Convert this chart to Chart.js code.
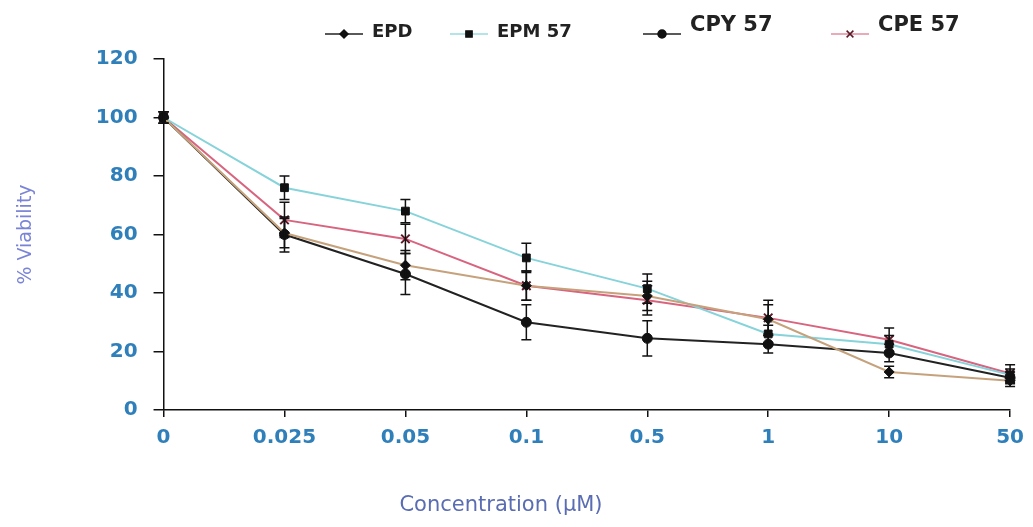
<!DOCTYPE html>
<html>
<head>
<meta charset="utf-8">
<script src="https://cdn.jsdelivr.net/npm/chart.js@4"></script>
<style>
    html, body { margin: 0; padding: 0; background: #fff; }
    #wrap { width: 1033px; height: 527px; position: relative; }
</style>
</head>
<body>
<div id="wrap"><canvas id="viability-chart"></canvas></div>
<script>
"use strict";

var concentrations = ["0", "0.025", "0.05", "0.1", "0.5", "1", "10", "50"];

var epd = [100, 60.5, 49.5, 42.5, 39, 31, 13, 10];
var epm57 = [100, 76, 68, 52, 41.5, 26, 22.5, 12];
var cpy57 = [100, 60, 46.5, 30, 24.5, 22.5, 19.5, 11];
var cpe57 = [100, 65, 58.5, 42.5, 37.5, 31.5, 24, 12.5];

var epdErr = [2, 5, 5, 5, 5, 5, 2, 2];
var epm57Err = [2, 4, 4, 5, 5, 3, 3, 2];
var cpy57Err = [2, 6, 7, 6, 6, 3, 3, 2];
var cpe57Err = [2, 6, 5, 5, 5, 6, 4, 3];

var yTicks = [0, 20, 40, 60, 80, 100, 120];

var tickBlue = "#2f7fbb";

// legend row at the top, drawn by hand so each entry sits where the original has it
var legendSlots = [
    { x: 325, textY: 32, size: 18 },
    { x: 450, textY: 32, size: 18 },
    { x: 643, textY: 26, size: 21 },
    { x: 831, textY: 26, size: 21 },
];

var errorBars = {
    id: "errorBars",
    afterDatasetsDraw: function (chart) {
        var ctx = chart.ctx;
        var yScale = chart.scales.y;
        ctx.save();
        ctx.strokeStyle = "#111";
        ctx.lineWidth = 1.5;
        chart.data.datasets.forEach(function (ds, i) {
            var meta = chart.getDatasetMeta(i);
            meta.data.forEach(function (pt, j) {
                var v = ds.data[j];
                var e = ds.errors[j];
                var top = yScale.getPixelForValue(v + e);
                var bot = yScale.getPixelForValue(v - e);
                ctx.beginPath();
                ctx.moveTo(pt.x, top);
                ctx.lineTo(pt.x, bot);
                ctx.moveTo(pt.x - 5, top);
                ctx.lineTo(pt.x + 5, top);
                ctx.moveTo(pt.x - 5, bot);
                ctx.lineTo(pt.x + 5, bot);
                ctx.stroke();
            });
        });
        ctx.restore();
    },
};

var topLegend = {
    id: "topLegend",
    afterDraw: function (chart) {
        var ctx = chart.ctx;
        ctx.save();
        chart.data.datasets.forEach(function (ds, i) {
            var slot = legendSlots[i];
            var lineY = 34;
            ctx.strokeStyle = ds.legendColor;
            ctx.lineWidth = 1.5;
            ctx.beginPath();
            ctx.moveTo(slot.x, lineY);
            ctx.lineTo(slot.x + 38, lineY);
            ctx.stroke();
            ctx.fillStyle = ds.pointBackgroundColor;
            ctx.strokeStyle = ds.pointBorderColor;
            Chart.helpers.drawPoint(ctx, {
                pointStyle: ds.pointStyle,
                radius: ds.pointRadius * 0.8,
                borderWidth: ds.pointBorderWidth,
                rotation: 0,
            }, slot.x + 19, lineY);
            ctx.fillStyle = "#222";
            ctx.font = "bold " + slot.size + "px 'DejaVu Sans'";
            ctx.textBaseline = "middle";
            ctx.textAlign = "left";
            ctx.fillText(ds.label, slot.x + 47, slot.textY);
        });

        // x axis title, centred where the original puts it
        ctx.fillStyle = "#5a6db3";
        ctx.font = "21px 'DejaVu Sans'";
        ctx.textAlign = "center";
        ctx.textBaseline = "middle";
        ctx.fillText("Concentration (\u00b5M)", 501, 506);
        ctx.restore();
    },
};

var ctx = document.getElementById("viability-chart").getContext("2d");

new Chart(ctx, {
    type: "line",
    data: {
        labels: concentrations,
        datasets: [
            {
                label: "EPD",
                data: epd,
                errors: epdErr,
                borderColor: "#c6a27c",
                legendColor: "#222",
                borderWidth: 2,
                pointStyle: "rectRot",
                pointRadius: 5,
                pointBorderWidth: 1,
                pointBackgroundColor: "#111",
                pointBorderColor: "#111",
            },
            {
                label: "EPM 57",
                data: epm57,
                errors: epm57Err,
                borderColor: "#86d3da",
                legendColor: "#9cdbe0",
                borderWidth: 2,
                pointStyle: "rect",
                pointRadius: 5.5,
                pointBorderWidth: 1,
                pointBackgroundColor: "#111",
                pointBorderColor: "#111",
            },
            {
                label: "CPY 57",
                data: cpy57,
                errors: cpy57Err,
                borderColor: "#222",
                legendColor: "#222",
                borderWidth: 2,
                pointStyle: "circle",
                pointRadius: 5,
                pointBorderWidth: 1,
                pointBackgroundColor: "#111",
                pointBorderColor: "#111",
            },
            {
                label: "CPE 57",
                data: cpe57,
                errors: cpe57Err,
                borderColor: "#d8647f",
                legendColor: "#e58ca2",
                borderWidth: 2,
                pointStyle: "crossRot",
                pointRadius: 6,
                pointBorderWidth: 2,
                pointBackgroundColor: "#5a1a28",
                pointBorderColor: "#5a1a28",
            },
        ],
    },
    options: {
        responsive: true,
        maintainAspectRatio: false,
        animation: false,
        layout: {
            padding: { top: 59, right: 15, bottom: 68, left: 0 },
        },
        elements: {
            line: { tension: 0 },
        },
        scales: {
            x: {
                offset: false,
                border: { color: "#111", width: 1.5 },
                grid: {
                    drawOnChartArea: false,
                    drawTicks: true,
                    tickLength: 7,
                    color: "#111",
                    lineWidth: 1.5,
                },
                ticks: {
                    color: tickBlue,
                    padding: 9,
                    maxRotation: 0,
                    font: { family: "'DejaVu Sans'", size: 20, weight: "bold" },
                },
            },
            y: {
                min: 0,
                max: 120,
                afterBuildTicks: function (scale) {
                    scale.ticks = yTicks.map(function (v) {
                        return { value: v };
                    });
                },
                border: { color: "#111", width: 1.5 },
                grid: {
                    drawOnChartArea: false,
                    drawTicks: true,
                    tickLength: 10,
                    color: "#111",
                    lineWidth: 1.5,
                },
                ticks: {
                    color: tickBlue,
                    padding: 16,
                    font: { family: "'DejaVu Sans'", size: 20, weight: "bold" },
                },
                title: {
                    display: true,
                    text: "% Viability",
                    color: "#7a84d6",
                    padding: { top: 15, bottom: 42 },
                    font: { family: "'DejaVu Sans'", size: 19 },
                },
            },
        },
        plugins: {
            legend: { display: false },
            tooltip: { enabled: false },
        },
    },
    plugins: [errorBars, topLegend],
});
</script>
</body>
</html>
